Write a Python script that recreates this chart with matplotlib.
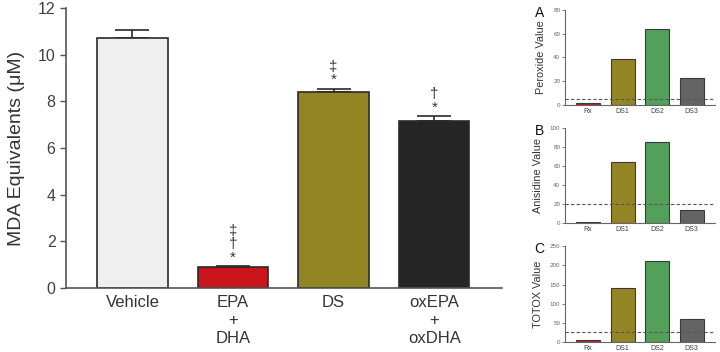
import matplotlib
matplotlib.use("Agg")
import matplotlib.pyplot as plt

plt.rcParams['font.family'] = ['Liberation Sans', 'DejaVu Sans']

# Main chart data
categories = ["Vehicle", "EPA\n+\nDHA", "DS", "oxEPA\n+\noxDHA"]
mda_values = [10.7, 0.9, 8.4, 7.15]
mda_errors = [0.37, 0.05, 0.15, 0.23]
mda_marks = ["", "‡\n†\n*", "‡\n*", "†\n*"]
main_colors = ["#efefef", "#c8141a", "#948524", "#262626"]
main_yticks = [0, 2, 4, 6, 8, 10, 12]

# Small panels data
panel_cats = ["Rx", "DS1", "DS2", "DS3"]
peroxide = [2, 39, 64, 23]
anisidine = [1, 64, 85, 13.5]
totox = [6, 142, 212, 60]
peroxide_limit = 5
anisidine_limit = 20
totox_limit = 26
panel_colors = ["#d9161b", "#948524", "#52a05a", "#646464"]

fig = plt.figure(figsize=(7.2, 3.52), dpi=100)

tick_col = "#404040"

ax = fig.add_axes([0.0917, 0.1818, 0.605, 0.795])
x = list(range(len(categories)))
ax.bar(x, mda_values, width=0.70, color=main_colors, edgecolor="#2a2a2a",
       linewidth=1.2, zorder=2)
ax.errorbar(x, mda_values, yerr=[[0]*4, mda_errors], fmt="none",
            ecolor="#2a2a2a", elinewidth=1.2, capsize=12, capthick=1.2, zorder=1)
for i, (v, e, m) in enumerate(zip(mda_values, mda_errors, mda_marks)):
    if m:
        ax.annotate(m, xy=(i, v + e), xytext=(0, 1), textcoords="offset points",
                    ha="center", va="bottom", fontsize=11, color="#333333",
                    linespacing=0.95)
ax.set_xlim(-0.66, 3.67)
ax.set_ylim(0, 12)
ax.set_yticks(main_yticks)
ax.set_xticks(x)
ax.set_xticklabels(categories, fontsize=12, color="#333333", linespacing=1.25)
ax.tick_params(axis="x", length=0, pad=5)
ax.tick_params(axis="y", labelsize=11.5, labelcolor=tick_col, length=4,
               color="#555555", width=1)
ax.set_ylabel("MDA Equivalents (μM)", fontsize=14, color="#333333", labelpad=9)
for s in ["top", "right"]:
    ax.spines[s].set_visible(False)
for s in ["left", "bottom"]:
    ax.spines[s].set_color("#555555")
    ax.spines[s].set_linewidth(1.2)

panels = [
    ("A", "Peroxide Value", peroxide, peroxide_limit, [0, 20, 40, 60, 80], 80,
     [0.785, 0.7017, 0.208, 0.270]),
    ("B", "Anisidine Value", anisidine, anisidine_limit, [0, 20, 40, 60, 80, 100], 100,
     [0.785, 0.3656, 0.208, 0.2716]),
    ("C", "TOTOX Value", totox, totox_limit, [0, 50, 100, 150, 200, 250], 250,
     [0.785, 0.0276, 0.208, 0.2736]),
]
for letter, label, vals, lim, ticks, ymax, rect in panels:
    pa = fig.add_axes(rect)
    px = list(range(len(panel_cats)))
    pa.bar(px, vals, width=0.70, color=panel_colors, edgecolor="#3a3a3a",
           linewidth=0.8, zorder=2)
    pa.axhline(lim, color="#555555", linestyle=(0, (3, 2)), linewidth=0.8, zorder=3)
    pa.set_xlim(-0.66, 3.67)
    pa.set_ylim(0, ymax)
    pa.set_yticks(ticks)
    pa.set_xticks(px)
    pa.set_xticklabels(panel_cats, fontsize=5, color=tick_col)
    pa.tick_params(axis="x", length=0, pad=2)
    pa.tick_params(axis="y", labelsize=4.5, labelcolor="#666666", length=2,
                   width=0.6, color="#666666", pad=1.5)
    pa.set_ylabel(label, fontsize=7.8, color="#333333", labelpad=5)
    for s in ["top", "right"]:
        pa.spines[s].set_visible(False)
    for s in ["left", "bottom"]:
        pa.spines[s].set_color("#666666")
        pa.spines[s].set_linewidth(0.8)
    fig.text(rect[0] - 0.036, rect[1] + rect[3] - 0.008, letter, fontsize=10,
             color="#111111", ha="center", va="center")

fig.savefig("out.png", dpi=100)
